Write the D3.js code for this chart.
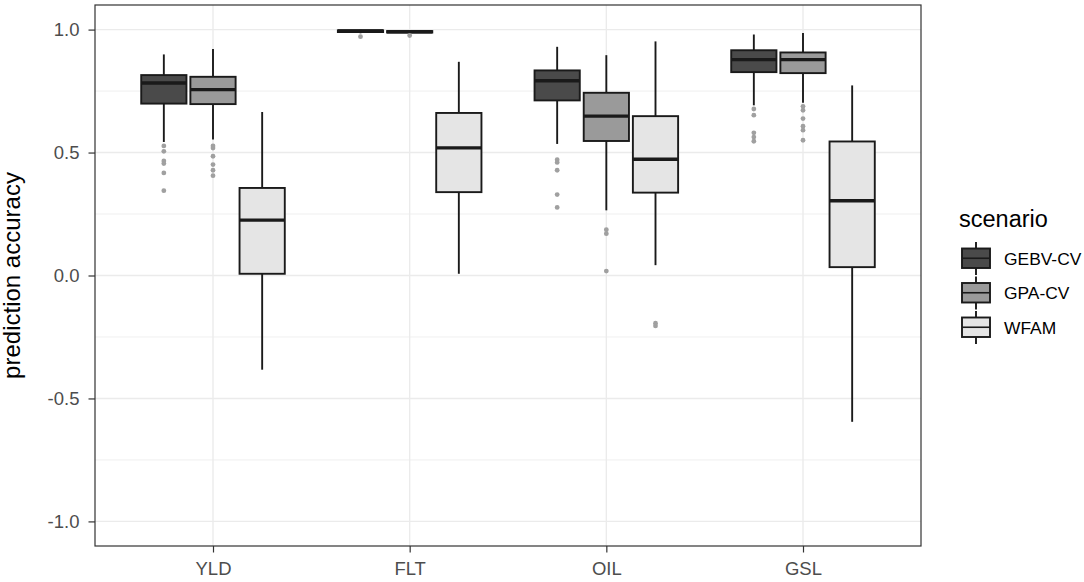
<!DOCTYPE html>
<html>
<head>
<meta charset="utf-8">
<script src="https://cdn.jsdelivr.net/npm/d3@7"></script>
<style>
  html, body { margin: 0; padding: 0; background: #fff; overflow: hidden; }
  svg { display: block; }
  text { font-family: "Liberation Sans", Arial, sans-serif; }
</style>
</head>
<body>
<div id="chart"></div>
<script>
const traits = ["YLD", "FLT", "OIL", "GSL"];
const scenarios = ["GEBV-CV", "GPA-CV", "WFAM"];
const fills = ["#4a4a4a", "#9a9a9a", "#e5e5e5"];
const yTicks = [-1, -0.5, 0, 0.5, 1];
const yMinor = [-0.75, -0.25, 0.25, 0.75];

// [lower whisker, q1, median, q3, upper whisker] per trait
const gebvStats = [
  [0.543, 0.699, 0.783, 0.815, 0.899],
  [0.985, 0.990, 0.994, 0.997, 0.999],
  [0.535, 0.712, 0.792, 0.834, 0.930],
  [0.692, 0.827, 0.878, 0.916, 0.980]
];
const gpaStats = [
  [0.553, 0.697, 0.756, 0.808, 0.921],
  [0.982, 0.988, 0.991, 0.994, 0.997],
  [0.265, 0.547, 0.648, 0.743, 0.896],
  [0.702, 0.823, 0.878, 0.907, 0.986]
];
const wfamStats = [
  [-0.383, 0.007, 0.225, 0.356, 0.665],
  [0.007, 0.339, 0.519, 0.661, 0.869],
  [0.042, 0.337, 0.473, 0.648, 0.952],
  [-0.595, 0.034, 0.304, 0.545, 0.773]
];

const gebvOutliers = [
  [0.527, 0.505, 0.466, 0.455, 0.417, 0.345],
  [0.971],
  [0.471, 0.460, 0.428, 0.329, 0.277],
  [0.677, 0.652, 0.580, 0.563, 0.546]
];
const gpaOutliers = [
  [0.527, 0.518, 0.485, 0.451, 0.428, 0.406],
  [0.976],
  [0.186, 0.170, 0.018],
  [0.688, 0.672, 0.638, 0.607, 0.591, 0.550]
];
const wfamOutliers = [
  [],
  [],
  [-0.194, -0.205],
  []
];

const width = 1084, height = 582;
const margin = { top: 5, right: 163, bottom: 36, left: 95 };
const innerWidth = width - margin.left - margin.right;
const innerHeight = height - margin.top - margin.bottom;

const allStats = [gebvStats, gpaStats, wfamStats];
const allOutliers = [gebvOutliers, gpaOutliers, wfamOutliers];

const boxes = [];
scenarios.forEach((s, si) => {
  traits.forEach((t, ti) => {
    const st = allStats[si][ti];
    boxes.push({ trait: t, scenario: s, lo: st[0], q1: st[1], med: st[2], q3: st[3], hi: st[4], out: allOutliers[si][ti] });
  });
});

const svg = d3.select("#chart")
  .append("svg")
  .attr("width", width)
  .attr("height", height);

const innerChart = svg.append("g")
  .attr("transform", `translate(${margin.left}, ${margin.top})`);

const xScale = d3.scalePoint()
  .domain(traits)
  .range([0, innerWidth])
  .padding(0.6);

const step = xScale.step();
const dodge = d3.scaleBand()
  .domain(scenarios)
  .range([-0.375 * step, 0.375 * step]);
const boxW = dodge.bandwidth() * 0.92;

const yScale = d3.scaleLinear()
  .domain([-1.1, 1.1])
  .range([innerHeight, 0]);

const colorScale = d3.scaleOrdinal().domain(scenarios).range(fills);

// grid
innerChart.append("g")
  .selectAll("line")
  .data(yMinor)
  .join("line")
  .attr("x1", 0).attr("x2", innerWidth)
  .attr("y1", d => yScale(d)).attr("y2", d => yScale(d))
  .attr("stroke", "#ebebeb").attr("stroke-width", 0.8);

innerChart.append("g")
  .selectAll("line")
  .data(yTicks)
  .join("line")
  .attr("x1", 0).attr("x2", innerWidth)
  .attr("y1", d => yScale(d)).attr("y2", d => yScale(d))
  .attr("stroke", "#ebebeb").attr("stroke-width", 1.4);

innerChart.append("g")
  .selectAll("line")
  .data(traits)
  .join("line")
  .attr("x1", d => xScale(d)).attr("x2", d => xScale(d))
  .attr("y1", 0).attr("y2", innerHeight)
  .attr("stroke", "#ebebeb").attr("stroke-width", 1.4);

// boxes
const bx = d => xScale(d.trait) + dodge(d.scenario) + dodge.bandwidth() / 2;
const lineW = 1.9;

const g = innerChart.selectAll("g.box")
  .data(boxes)
  .join("g")
  .attr("class", "box");

g.append("line")
  .attr("x1", bx).attr("x2", bx)
  .attr("y1", d => yScale(d.hi)).attr("y2", d => yScale(d.q3))
  .attr("stroke", "#1a1a1a").attr("stroke-width", lineW);

g.append("line")
  .attr("x1", bx).attr("x2", bx)
  .attr("y1", d => yScale(d.q1)).attr("y2", d => yScale(d.lo))
  .attr("stroke", "#1a1a1a").attr("stroke-width", lineW);

g.append("rect")
  .attr("x", d => bx(d) - boxW / 2)
  .attr("width", boxW)
  .attr("y", d => yScale(d.q3))
  .attr("height", d => yScale(d.q1) - yScale(d.q3))
  .attr("fill", d => colorScale(d.scenario))
  .attr("stroke", "#1a1a1a")
  .attr("stroke-width", lineW);

g.append("line")
  .attr("x1", d => bx(d) - boxW / 2).attr("x2", d => bx(d) + boxW / 2)
  .attr("y1", d => yScale(d.med)).attr("y2", d => yScale(d.med))
  .attr("stroke", "#1a1a1a").attr("stroke-width", 3.4);

g.selectAll("circle")
  .data(d => d.out.map(v => ({ v, x: bx(d) })))
  .join("circle")
  .attr("cx", d => d.x)
  .attr("cy", d => yScale(d.v))
  .attr("r", 2.4)
  .attr("fill", "#a0a0a0");

// border
innerChart.append("rect")
  .attr("width", innerWidth).attr("height", innerHeight)
  .attr("fill", "none").attr("stroke", "#333").attr("stroke-width", 1.2);

// axes
const xAxis = d3.axisBottom(xScale).tickSize(6.5).tickSizeOuter(0).tickPadding(9);
const yAxis = d3.axisLeft(yScale)
  .tickValues(yTicks)
  .tickFormat(d => d.toFixed(1))
  .tickSize(6.5)
  .tickSizeOuter(0)
  .tickPadding(9);

const xg = innerChart.append("g")
  .attr("transform", `translate(0, ${innerHeight})`)
  .call(xAxis);
const yg = innerChart.append("g").call(yAxis);

[xg, yg].forEach(a => {
  a.select(".domain").remove();
  a.selectAll(".tick line").attr("stroke", "#333").attr("stroke-width", 1.2);
  a.selectAll(".tick text").attr("fill", "#4d4d4d").attr("font-size", 18.5)
    .attr("font-family", "'Liberation Sans', Arial, sans-serif");
});

svg.append("text")
  .attr("transform", `translate(20, ${margin.top + innerHeight / 2}) rotate(-90)`)
  .attr("text-anchor", "middle")
  .attr("font-size", 24)
  .attr("fill", "#000")
  .text("prediction accuracy");

// legend
const legend = svg.append("g").attr("transform", "translate(959, 0)");
legend.append("text")
  .attr("x", 0).attr("y", 227)
  .attr("font-size", 23.5)
  .text("scenario");

const keys = legend.selectAll("g.key")
  .data(scenarios)
  .join("g")
  .attr("class", "key")
  .attr("transform", (d, i) => `translate(0, ${241 + i * 34.5})`);

keys.append("line")
  .attr("x1", 17).attr("x2", 17).attr("y1", 1).attr("y2", 34)
  .attr("stroke", "#1a1a1a").attr("stroke-width", lineW);
keys.append("rect")
  .attr("x", 3).attr("y", 7.5).attr("width", 28).attr("height", 19.5)
  .attr("fill", d => colorScale(d))
  .attr("stroke", "#1a1a1a").attr("stroke-width", lineW);
keys.append("line")
  .attr("x1", 3).attr("x2", 31).attr("y1", 17.25).attr("y2", 17.25)
  .attr("stroke", "#1a1a1a").attr("stroke-width", 1.6);
keys.append("text")
  .attr("x", 45).attr("y", 23.5)
  .attr("font-size", 17.4)
  .attr("fill", "#000")
  .text(d => d);
</script>
</body>
</html>
